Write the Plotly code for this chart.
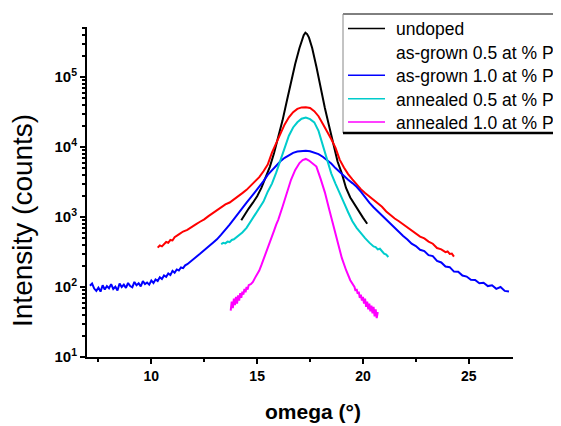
import plotly.graph_objects as go

# ---------------- data ----------------
series_names = ["undoped", "as-grown 0.5 at % P", "as-grown 1.0 at % P",
                "annealed 0.5 at % P", "annealed 1.0 at % P"]
series_colors = ["#000000", "#ff0000", "#0000ff", "#00cccc", "#ff00ff"]

omega_undoped = [14.25, 14.40, 14.60, 14.80, 15.00, 15.20, 15.40, 15.60, 15.80, 16.00,
                 16.20, 16.40, 16.60, 16.80, 17.00, 17.10, 17.20, 17.28, 17.36, 17.45,
                 17.60, 17.80, 18.00, 18.20, 18.40, 18.60, 18.80, 19.00, 19.20, 19.40,
                 19.60, 19.80, 20.00, 20.20]
int_undoped = [900, 1080, 1320, 1600, 1980, 2600, 3600, 5200, 8200, 13500,
               24000, 45000, 85000, 155000, 260000, 330000, 395000, 430000, 410000, 365000,
               260000, 140000, 70000, 36000, 20000, 11000, 6200, 4200, 2600, 1900,
               1500, 1200, 980, 800]

omega_ag05 = [10.30, 10.40, 10.50, 10.60, 10.70, 10.80, 10.90, 11.00, 11.10, 11.30,
              11.50, 11.70, 11.90, 12.10, 12.30, 12.50, 12.70, 12.90, 13.10, 13.30,
              13.50, 13.70, 13.90, 14.10, 14.30, 14.50, 14.70, 14.90, 15.10, 15.30,
              15.50, 15.70, 15.90, 16.10, 16.30, 16.50, 16.70, 16.90, 17.10, 17.30,
              17.50, 17.70, 17.90, 18.10, 18.30, 18.50, 18.70, 18.90, 19.10, 19.30,
              19.50, 19.70, 19.90, 20.10, 20.30, 20.50, 20.70, 20.90, 21.10, 21.30,
              21.50, 21.70, 21.90, 22.10, 22.30, 22.50, 22.70, 22.90, 23.10, 23.30,
              23.50, 23.70, 23.90, 24.00, 24.10, 24.20, 24.30]
int_ag05 = [365, 392, 380, 415, 440, 428, 470, 462, 515, 565,
            620, 655, 725, 785, 855, 925, 1030, 1130, 1270, 1370,
            1510, 1610, 1770, 1940, 2190, 2440, 2810, 3190, 3710, 4500,
            5600, 8300, 11500, 16000, 21000, 26500, 31500, 35000, 36800, 37000,
            36000, 32500, 27500, 21500, 17000, 13000, 9800, 6600, 5100, 4100,
            3450, 2900, 2500, 2200, 1950, 1740, 1560, 1400, 1200, 1060,
            950, 870, 790, 720, 650, 595, 525, 495, 445, 415,
            360, 345, 315, 322, 296, 300, 272]

omega_ag10 = [7.10, 7.20, 7.30, 7.40, 7.50, 7.60, 7.70, 7.80, 7.90, 8.00,
              8.10, 8.20, 8.30, 8.40, 8.50, 8.60, 8.70, 8.80, 8.90, 9.00,
              9.10, 9.20, 9.30, 9.40, 9.50, 9.60, 9.70, 9.80, 9.90, 10.00,
              10.10, 10.20, 10.30, 10.40, 10.50, 10.60, 10.70, 10.80, 10.90, 11.00,
              11.10, 11.20, 11.30, 11.40, 11.50, 11.60, 11.70, 11.80, 11.90, 12.00,
              12.10, 12.20, 12.30, 12.40, 12.50, 12.60, 12.70, 12.80, 12.90,
              13.10, 13.30, 13.50, 13.70, 13.90, 14.10, 14.30, 14.50, 14.70, 14.90,
              15.10, 15.30, 15.50, 15.70, 15.90, 16.10, 16.30, 16.50, 16.70, 16.90,
              17.10, 17.30, 17.50, 17.70, 17.90, 18.10, 18.30, 18.50, 18.70, 18.90,
              19.10, 19.30, 19.50, 19.70, 19.90, 20.10, 20.30, 20.50, 20.70, 20.90,
              21.10, 21.30, 21.50, 21.70, 21.90, 22.10, 22.30, 22.50, 22.70, 22.90,
              23.10, 23.30, 23.50, 23.70, 23.90, 24.10, 24.30, 24.50, 24.70, 24.90,
              25.10, 25.30, 25.50, 25.70, 25.90, 26.10, 26.30, 26.50, 26.70, 26.90]
int_ag10 = [104, 112, 95, 88, 98, 86, 106, 92, 103, 96,
            110, 94, 101, 89, 112, 100, 108, 97, 114, 103,
            99, 118, 106, 113, 102, 121, 110, 116, 108, 124,
            114, 128, 122, 138, 130, 146, 140, 156, 148, 170,
            160, 178, 172, 190, 186, 204, 212, 226, 240, 252,
            268, 282, 298, 318, 335, 358, 375, 400, 425,
            480, 560, 650, 780, 930, 1100, 1320, 1600, 1900, 2250,
            2650, 3250, 4000, 4700, 5500, 6250, 7000, 7700, 8250, 8600,
            8800, 8850, 8700, 8350, 7900, 7250, 6500, 5800, 5000, 4350,
            3850, 3400, 3050, 2700, 2300, 1900, 1600, 1380, 1200, 1060,
            920, 800, 700, 615, 535, 478, 415, 385, 340, 326,
            285, 276, 236, 224, 196, 192, 166, 165, 146, 141,
            127, 126, 113, 115, 103, 106, 94, 100, 88, 86]

omega_an05 = [13.30, 13.40, 13.50, 13.60, 13.70, 13.80, 13.90, 14.10, 14.30, 14.50,
              14.70, 14.90, 15.10, 15.30, 15.50, 15.70, 15.90, 16.10, 16.30, 16.50,
              16.70, 16.90, 17.10, 17.30, 17.50, 17.70, 17.90, 18.10, 18.30, 18.50,
              18.70, 18.90, 19.10, 19.30, 19.50, 19.70, 19.90, 20.10, 20.30, 20.50,
              20.60, 20.70, 20.80, 20.90, 21.00, 21.10, 21.20]
int_an05 = [410, 428, 420, 445, 438, 470, 480, 530, 600, 700,
            860, 1060, 1320, 1660, 2300, 3000, 4300, 6400, 10000, 14500,
            19000, 22500, 25300, 26300, 25000, 22500, 17000, 10500, 6300, 4200,
            3000, 2250, 1600, 1170, 870, 700, 580, 500, 430, 380,
            372, 345, 352, 318, 300, 290, 268]

omega_an10 = [13.75, 13.80, 13.85, 13.90, 13.95, 14.00, 14.05, 14.10, 14.15, 14.20,
              14.25, 14.30, 14.35, 14.40, 14.45, 14.50, 14.55, 14.60,
              14.70, 14.80, 14.90, 15.00, 15.10, 15.20, 15.30, 15.40, 15.50, 15.60,
              15.70, 15.80, 15.90, 16.00, 16.20, 16.40, 16.60, 16.80, 17.00, 17.15,
              17.30, 17.45, 17.60, 17.80, 18.00, 18.20, 18.40, 18.60, 18.80, 19.00,
              19.20, 19.40, 19.60, 19.65, 19.70, 19.75, 19.80, 19.85, 19.90, 19.95,
              20.00, 20.05, 20.10, 20.15, 20.20, 20.25, 20.30, 20.35, 20.40, 20.45,
              20.50, 20.55, 20.60, 20.65, 20.70]
int_an10 = [46, 62, 50, 68, 55, 72, 58, 76, 64, 82,
            70, 86, 78, 94, 84, 100, 92, 106,
            110, 118, 135, 150, 172, 205, 245, 300, 355, 420,
            520, 640, 780, 920, 1400, 2200, 3400, 4700, 5900, 6500,
            6750, 6400, 5900, 5250, 3500, 2250, 1300, 760, 430, 260,
            175, 125, 100, 88, 94, 80, 86, 70, 78, 64,
            72, 58, 68, 52, 62, 48, 58, 45, 54, 42,
            52, 38, 48, 36, 44]

x_tickvals = [10, 15, 20, 25]
x_ticktext = ["10", "15", "20", "25"]
y_tickvals = [10, 100, 1000, 10000, 100000]
y_ticktext = ["10<sup>1</sup>", "10<sup>2</sup>", "10<sup>3</sup>", "10<sup>4</sup>", "10<sup>5</sup>"]

x_title = "omega (°)"
y_title = "Intensity (counts)"

# ---------------- figure ----------------
FONT = "Liberation Sans, Arial, sans-serif"
OFF = 8                      # page body margin offset
W, H = 561 - OFF, 426 - OFF
# plot area in reference pixels: x 87..513, y 27..357
ML, MT = 87 - OFF, 27 - OFF
MR, MB = W - (513 - OFF), H - (357 - OFF)
PW, PH = W - ML - MR, H - MT - MB

def px_x(px):                # reference pixel -> paper x
    return (px - 87) / PW

def px_y(py):                # reference pixel -> paper y
    return (357 - py) / PH

xs = [omega_undoped, omega_ag05, omega_ag10, omega_an05, omega_an10]
ys = [int_undoped, int_ag05, int_ag10, int_an05, int_an10]

fig = go.Figure()
for name, color, x, y in zip(series_names, series_colors, xs, ys):
    fig.add_trace(go.Scatter(x=x, y=y, mode="lines", name=name,
                             line=dict(color=color, width=2), showlegend=False))

fig.update_layout(
    width=W, height=H,
    margin=dict(l=ML, r=MR, t=MT, b=MB, pad=0),
    paper_bgcolor="white", plot_bgcolor="white",
    font=dict(family=FONT, color="black"),
    showlegend=False,
)
fig.update_xaxes(
    range=[6.96, 27.09], showline=True, linecolor="black", linewidth=2,
    showgrid=False, zeroline=False,
    tickvals=x_tickvals, ticktext=[f"<b>{t}</b>" for t in x_ticktext],
    ticks="outside", ticklen=5, tickwidth=2, tickcolor="black",
    tickfont=dict(size=14, family=FONT),
    minor=dict(dtick=2.5, tick0=0, ticks="outside", ticklen=3, tickwidth=2, tickcolor="black"),
)
fig.update_yaxes(
    type="log", range=[1, 5.714], showline=True, linecolor="black", linewidth=2,
    showgrid=False, zeroline=False,
    tickvals=y_tickvals, ticktext=[f"<b>{t}</b>" for t in y_ticktext],
    ticks="outside", ticklen=5, tickwidth=2, tickcolor="black",
    tickfont=dict(size=15, family=FONT),
    minor=dict(dtick="D1", ticks="outside", ticklen=3, tickwidth=1.5, tickcolor="black"),
)

# axis titles
fig.add_annotation(text=f"<b>{x_title}</b>", xref="paper", yref="paper",
                   x=px_x(313), y=px_y(411), showarrow=False,
                   font=dict(size=21, family=FONT), xanchor="center", yanchor="middle")
fig.add_annotation(text=y_title, xref="paper", yref="paper",
                   x=px_x(22), y=px_y(221), showarrow=False, textangle=-90,
                   font=dict(size=28, family=FONT), xanchor="center", yanchor="middle")

# legend box (partly outside the page on the right, like the reference)
box_l, box_t, box_b, box_r = 343, 14, 133, 620
fig.add_shape(type="line", xref="paper", yref="paper", x0=px_x(box_l), x1=px_x(box_r),
              y0=px_y(box_t), y1=px_y(box_t), line=dict(color="black", width=1))
fig.add_shape(type="line", xref="paper", yref="paper", x0=px_x(box_l), x1=px_x(box_l),
              y0=px_y(box_t), y1=px_y(box_b), line=dict(color="#888888", width=1))
fig.add_shape(type="line", xref="paper", yref="paper", x0=px_x(box_l), x1=px_x(box_r),
              y0=px_y(box_b), y1=px_y(box_b), line=dict(color="black", width=2.5))

legend_rows = [28.5, 52, 75.3, 98.7, 122]
legend_has_line = [True, False, True, True, True]
for name, color, row, has_line in zip(series_names, series_colors, legend_rows, legend_has_line):
    if has_line:
        fig.add_shape(type="line", xref="paper", yref="paper",
                      x0=px_x(348), x1=px_x(385), y0=px_y(row), y1=px_y(row),
                      line=dict(color=color, width=1.5))
    fig.add_annotation(text=name, xref="paper", yref="paper",
                       x=px_x(394), y=px_y(row + 1), showarrow=False,
                       xanchor="left", yanchor="middle",
                       font=dict(size=17.5, family=FONT))

fig.write_html("out.html")
